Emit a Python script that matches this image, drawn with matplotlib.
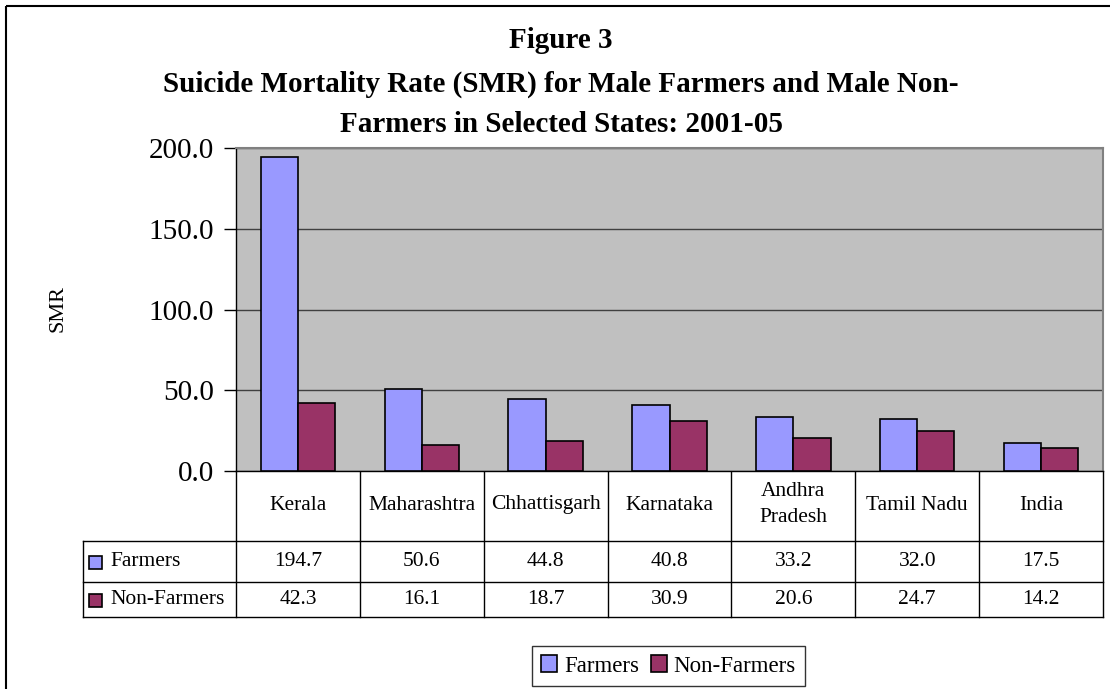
import numpy as np
import matplotlib
matplotlib.use('Agg')
from matplotlib import pyplot as plt
from matplotlib import transforms
from matplotlib.patches import Rectangle, Patch

plt.rcParams['font.family'] = ['Liberation Serif', 'DejaVu Serif']

states = ['Kerala', 'Maharashtra', 'Chhattisgarh', 'Karnataka', 'Andhra\nPradesh', 'Tamil Nadu', 'India']
farmers = [194.7, 50.6, 44.8, 40.8, 33.2, 32.0, 17.5]
non_farmers = [42.3, 16.1, 18.7, 30.9, 20.6, 24.7, 14.2]
series = ['Farmers', 'Non-Farmers']
colors = ['#9999FF', '#993366']

W, H = 1110, 689
fig = plt.figure(figsize=(W/100, H/100), dpi=100)

# layout axes in pixel coords (y down)
lay = fig.add_axes([0, 0, 1, 1])
lay.set_xlim(0, W)
lay.set_ylim(H, 0)
lay.axis('off')
lay.add_patch(Rectangle((6, 6), W + 20, H + 20, fill=False, ec='black', lw=1.5, clip_on=False))

# plot area
x0, x1, ytop, ybot = 236, 1103, 148, 471
ax = fig.add_axes([x0/W, 1 - ybot/H, (x1 - x0)/W, (ybot - ytop)/H])
ax.set_facecolor('#C0C0C0')
x = np.arange(len(states))
bw = 0.30
ax.bar(x - bw/2, farmers, bw, color=colors[0], edgecolor='black', lw=1.2, zorder=3)
ax.bar(x + bw/2, non_farmers, bw, color=colors[1], edgecolor='black', lw=1.2, zorder=3)
ax.set_xlim(-0.5, len(states) - 0.5)
ax.set_ylim(0, 200)
ax.set_yticks(np.arange(0, 201, 50))
ax.set_yticklabels(['%.1f' % v for v in np.arange(0, 201, 50)], fontsize=21)
ax.tick_params(axis='y', length=9, width=1, pad=7, direction='out')
ax.set_xticks([])
ax.yaxis.grid(True, color='#404040', lw=1, zorder=1)
for s in ['top', 'right']:
    ax.spines[s].set_color('#808080')
    ax.spines[s].set_linewidth(1.5)
ax.spines['left'].set_linewidth(1)
ax.spines['bottom'].set_linewidth(1)

# data table under the chart
bt = transforms.blended_transform_factory(ax.transData, lay.transData)
rows = [471, 541, 582, 617]
xl = -0.5 - (x0 - 83) / ((x1 - x0) / len(states))
xr = len(states) - 0.5
for i in range(len(states) + 1):
    lay.plot([i - 0.5, i - 0.5], [rows[0], rows[3]], color='black', lw=1, transform=bt, clip_on=False)
lay.plot([xl, xl], [rows[1], rows[3]], color='black', lw=1, transform=bt, clip_on=False)
for r in rows[1:]:
    lay.plot([xl, xr], [r, r], color='black', lw=1, transform=bt, clip_on=False)
for i, s in enumerate(states):
    lay.text(i, (rows[0] + rows[1]) / 2 - 1, s, ha='center', va='center', fontsize=15.5,
             linespacing=1.5, transform=bt)
    lay.text(i, (rows[1] + rows[2]) / 2, '%.1f' % farmers[i], ha='center', va='center', fontsize=15.5, transform=bt)
    lay.text(i, (rows[2] + rows[3]) / 2, '%.1f' % non_farmers[i], ha='center', va='center', fontsize=15.5, transform=bt)
for k, name in enumerate(series):
    yc = (rows[k + 1] + rows[k + 2]) / 2
    lay.add_patch(Rectangle((89, yc - 6), 13, 13, fc=colors[k], ec='black', lw=1.2))
    lay.text(110, yc, name, ha='left', va='center', fontsize=15.5)

# title
for yy, line in zip([40, 84, 125], ['Figure 3',
                                    'Suicide Mortality Rate (SMR) for Male Farmers and Male Non-',
                                    'Farmers in Selected States: 2001-05']):
    lay.text(561, yy, line, ha='center', va='center', fontsize=21, fontweight='bold')

# y label
lay.text(58, 308, 'SMR', rotation=90, ha='center', va='center', fontsize=16)

# legend
handles = [Patch(fc=colors[k], ec='black', lw=1.2, label=series[k]) for k in range(2)]
leg = fig.legend(handles=handles, loc='center', bbox_to_anchor=(668.5/W, 1 - 666/H), ncol=2,
                 fontsize=16.5, frameon=True, fancybox=False, edgecolor='black',
                 handlelength=0.7, handleheight=0.7, handletextpad=0.3, columnspacing=0.5,
                 borderpad=0.4)
leg.get_frame().set_linewidth(1)

fig.savefig('out.png', dpi=100)
